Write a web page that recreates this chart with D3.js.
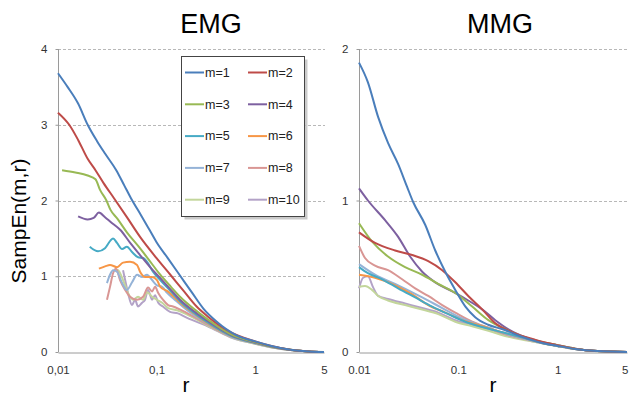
<!DOCTYPE html>
<html><head><meta charset="utf-8">
<script src="https://cdn.jsdelivr.net/npm/d3@7"></script>
<style>body{margin:0;background:#fff}svg{display:block}text{font-family:"Liberation Sans",Arial,sans-serif}</style>
</head><body><svg id="c" width="629" height="399"></svg>
<script>
// ---- data (r, SampEn) ----
const seriesNames = ["m=1","m=2","m=3","m=4","m=5","m=6","m=7","m=8","m=9","m=10"];
const seriesColors = ["#4A7EBB","#BE4B48","#98B954","#7D60A0","#46AAC5","#F79646","#95B3D7","#D99694","#C3D69B","#B3A2C7"];
const xTicks = [0.01,0.1,1,5];
const xTickLabelsEMG = ["0,01","0,1","1","5"];
const xTickLabelsMMG = ["0.01","0.1","1","5"];
const yTicksEMG = [0,1,2,3,4];
const yTicksMMG = [0,1,2];

const emg1 = [[0.01,3.68],[0.0125,3.5],[0.016,3.28],[0.02,3.0],[0.025,2.78],[0.03,2.62],[0.039,2.4],[0.047,2.2],[0.055,2.03],[0.07,1.8],[0.085,1.61],[0.1,1.45],[0.13,1.24],[0.175,1.0],[0.23,0.78],[0.3,0.57],[0.4,0.41],[0.65,0.22],[1,0.14],[1.5,0.075],[2.3,0.03],[3.5,0.008],[5,0]];
const emg2 = [[0.01,3.16],[0.013,3.0],[0.016,2.8],[0.02,2.55],[0.024,2.4],[0.029,2.23],[0.037,2.03],[0.05,1.78],[0.068,1.52],[0.1,1.24],[0.14,1.01],[0.19,0.8],[0.255,0.6],[0.33,0.47],[0.55,0.27],[1,0.14],[1.5,0.075],[2.3,0.03],[3.5,0.008],[5,0]];
const emg3 = [[0.011,2.4],[0.015,2.37],[0.02,2.33],[0.024,2.28],[0.0267,2.14],[0.031,2.0],[0.034,1.88],[0.04,1.76],[0.05,1.58],[0.065,1.4],[0.08,1.25],[0.109,1.02],[0.14,0.86],[0.173,0.73],[0.25,0.55],[0.33,0.43],[0.6,0.22],[1,0.13],[1.5,0.07],[2.3,0.03],[3.5,0.008],[5,0]];
const emg4 = [[0.016,1.79],[0.02,1.75],[0.023,1.77],[0.026,1.84],[0.03,1.78],[0.034,1.72],[0.043,1.61],[0.054,1.44],[0.068,1.28],[0.086,1.12],[0.11,0.97],[0.14,0.82],[0.173,0.69],[0.25,0.52],[0.33,0.41],[0.6,0.21],[1,0.125],[1.5,0.07],[2.3,0.028],[3.5,0.007],[5,0]];
const emg5 = [[0.021,1.39],[0.0255,1.33],[0.03,1.37],[0.034,1.47],[0.0362,1.5],[0.0397,1.44],[0.0447,1.36],[0.05,1.39],[0.0564,1.32],[0.065,1.25],[0.073,1.24],[0.082,1.17],[0.092,1.06],[0.109,0.95],[0.14,0.8],[0.173,0.67],[0.25,0.5],[0.33,0.39],[0.6,0.2],[1,0.12],[1.5,0.065],[2.3,0.027],[3.5,0.007],[5,0]];
const emg6 = [[0.026,1.1],[0.03,1.13],[0.0337,1.15],[0.0397,1.12],[0.0457,1.18],[0.0538,1.19],[0.0634,1.15],[0.068,1.06],[0.0764,0.99],[0.09,0.99],[0.101,0.95],[0.109,0.86],[0.13,0.8],[0.173,0.65],[0.25,0.49],[0.33,0.38],[0.6,0.2],[1,0.12],[1.5,0.065],[2.3,0.027],[3.5,0.007],[5,0]];
const emg7 = [[0.0314,0.91],[0.0337,1.02],[0.0362,1.08],[0.0397,1.06],[0.0447,0.91],[0.05,0.82],[0.0564,0.92],[0.0634,1.02],[0.0713,0.99],[0.08,1.02],[0.09,0.95],[0.101,0.88],[0.114,0.86],[0.128,0.78],[0.15,0.7],[0.2,0.56],[0.33,0.37],[0.6,0.19],[1,0.115],[1.5,0.062],[2.3,0.026],[3.5,0.007],[5,0]];
const emg8 = [[0.0314,0.69],[0.0337,0.86],[0.0362,1.04],[0.0388,1.1],[0.0426,0.95],[0.048,0.82],[0.0538,0.73],[0.0634,0.69],[0.073,0.73],[0.082,0.85],[0.09,0.8],[0.0966,0.86],[0.104,0.78],[0.116,0.69],[0.131,0.62],[0.147,0.6],[0.2,0.52],[0.33,0.36],[0.6,0.19],[1,0.115],[1.5,0.062],[2.3,0.026],[3.5,0.007],[5,0]];
const emg9 = [[0.0379,1.09],[0.0406,1.08],[0.0457,0.95],[0.0513,0.78],[0.0577,0.69],[0.0649,0.73],[0.073,0.69],[0.08,0.79],[0.09,0.73],[0.101,0.69],[0.114,0.65],[0.131,0.58],[0.162,0.55],[0.2,0.5],[0.33,0.35],[0.6,0.185],[1,0.11],[1.5,0.06],[2.3,0.025],[3.5,0.006],[5,0]];
const emg10 = [[0.0457,1.08],[0.048,0.95],[0.0513,0.78],[0.0564,0.62],[0.0605,0.69],[0.0649,0.6],[0.0713,0.65],[0.0764,0.69],[0.082,0.82],[0.09,0.69],[0.0966,0.75],[0.104,0.65],[0.116,0.6],[0.137,0.53],[0.165,0.51],[0.204,0.45],[0.33,0.34],[0.6,0.18],[1,0.11],[1.5,0.06],[2.3,0.025],[3.5,0.006],[5,0]];

const mmg1 = [[0.01,1.91],[0.0123,1.78],[0.0156,1.55],[0.0196,1.38],[0.0248,1.24],[0.0305,1.09],[0.0351,0.99],[0.0464,0.84],[0.0586,0.67],[0.0739,0.53],[0.0933,0.41],[0.118,0.3],[0.148,0.23],[0.2,0.18],[0.28,0.15],[0.44,0.1],[0.7,0.06],[1,0.04],[1.5,0.02],[2.5,0.006],[5,0]];
const mmg2 = [[0.01,0.79],[0.0145,0.72],[0.0231,0.67],[0.0343,0.64],[0.0498,0.6],[0.0689,0.54],[0.0933,0.46],[0.126,0.37],[0.175,0.28],[0.236,0.19],[0.351,0.13],[0.6,0.08],[1,0.045],[1.5,0.022],[2.5,0.006],[5,0]];
const mmg3 = [[0.01,0.85],[0.0135,0.73],[0.0196,0.63],[0.0291,0.56],[0.0433,0.51],[0.0628,0.45],[0.0933,0.39],[0.138,0.3],[0.201,0.21],[0.298,0.15],[0.509,0.09],[1,0.045],[1.5,0.022],[2.5,0.006],[5,0]];
const mmg4 = [[0.01,1.08],[0.0123,1.0],[0.0183,0.87],[0.0248,0.76],[0.0327,0.63],[0.0433,0.53],[0.0586,0.46],[0.087,0.4],[0.126,0.34],[0.175,0.28],[0.236,0.21],[0.32,0.15],[0.509,0.09],[1,0.045],[1.5,0.022],[2.5,0.006],[5,0]];
const mmg5 = [[0.01,0.56],[0.0123,0.52],[0.0171,0.48],[0.0248,0.42],[0.0368,0.36],[0.0546,0.3],[0.0793,0.25],[0.118,0.2],[0.175,0.165],[0.278,0.13],[0.443,0.095],[0.7,0.06],[1,0.04],[1.5,0.02],[2.5,0.006],[5,0]];
const mmg6 = [[0.01,0.51],[0.0145,0.49],[0.0231,0.44],[0.0343,0.38],[0.0498,0.31],[0.0739,0.26],[0.11,0.21],[0.175,0.17],[0.278,0.13],[0.443,0.095],[0.7,0.06],[1,0.04],[1.5,0.02],[2.5,0.006],[5,0]];
const mmg7 = [[0.01,0.58],[0.0145,0.51],[0.0248,0.44],[0.0433,0.36],[0.0689,0.29],[0.11,0.22],[0.201,0.16],[0.3,0.12],[0.443,0.09],[0.7,0.06],[1,0.04],[1.5,0.02],[2.5,0.006],[5,0]];
const mmg8 = [[0.01,0.7],[0.0115,0.62],[0.0145,0.57],[0.0196,0.54],[0.0272,0.48],[0.0368,0.42],[0.0498,0.37],[0.0689,0.31],[0.0933,0.26],[0.138,0.2],[0.201,0.16],[0.32,0.11],[0.5,0.08],[1,0.04],[1.5,0.02],[2.5,0.006],[5,0]];
const mmg9 = [[0.01,0.43],[0.0115,0.435],[0.0135,0.41],[0.0156,0.37],[0.0196,0.34],[0.0291,0.31],[0.0433,0.28],[0.0628,0.25],[0.0933,0.2],[0.138,0.17],[0.201,0.14],[0.32,0.1],[0.5,0.075],[1,0.038],[1.5,0.019],[2.5,0.005],[5,0]];
const mmg10 = [[0.01,0.42],[0.011,0.49],[0.0123,0.5],[0.0138,0.43],[0.0156,0.37],[0.0196,0.35],[0.0291,0.32],[0.0433,0.29],[0.0628,0.26],[0.0933,0.21],[0.138,0.18],[0.201,0.15],[0.32,0.11],[0.5,0.078],[1,0.039],[1.5,0.019],[2.5,0.005],[5,0]];

const emgData = [emg1,emg2,emg3,emg4,emg5,emg6,emg7,emg8,emg9,emg10];
const mmgData = [mmg1,mmg2,mmg3,mmg4,mmg5,mmg6,mmg7,mmg8,mmg9,mmg10];

const svg = d3.select("#c");

function panel(cfg){
  const x = d3.scaleLog().domain([0.01,5]).range([cfg.x0,cfg.x1]);
  const y = d3.scaleLinear().domain([0,cfg.yMax]).range([352,49]);
  const g = svg.append("g");
  g.selectAll("line.grid").data(cfg.yTicks.filter(d=>d>0)).join("line")
    .attr("x1",cfg.x0).attr("x2",cfg.x1+1)
    .attr("y1",d=>Math.round(y(d))+0.5).attr("y2",d=>Math.round(y(d))+0.5)
    .attr("stroke","#b8b8b8").attr("stroke-width",1).attr("stroke-dasharray","3,2");
  const ya = d3.axisLeft(y).tickValues(cfg.yTicks).tickSize(3).tickFormat(d3.format("d"));
  const yg = g.append("g").attr("transform",`translate(${cfg.x0+0.5},0)`).call(ya);
  yg.select(".domain").attr("stroke","#9a9a9a").attr("d",`M-0,${y(cfg.yMax)}V${y(0)}`);
  yg.selectAll(".tick line").attr("stroke","#9a9a9a");
  yg.selectAll(".tick text").attr("x",-11).attr("fill","#333").style("font-size","11.5px").style("font-family","'Liberation Sans',Arial,sans-serif");
  const xa = d3.axisBottom(x).tickValues(xTicks).tickSize(0).tickFormat((d,i)=>cfg.xLabels[i]);
  const xg = g.append("g").attr("transform",`translate(0,${352.5})`).call(xa);
  xg.select(".domain").attr("stroke","#9a9a9a");
  xg.selectAll(".tick text").attr("y",13).attr("dy","0.71em").attr("fill","#333").style("font-size","11.5px").style("font-family","'Liberation Sans',Arial,sans-serif");
  if (cfg.clampLast) {
    xg.selectAll(".tick text").filter(d=>d===5).attr("text-anchor","end").attr("x",628-x(5));
  }
  const line = d3.line().x(d=>x(d[0])).y(d=>y(d[1])).curve(d3.curveMonotoneX);
  const order = [9,8,7,6,5,4,3,2,1,0];
  g.selectAll("path.s").data(order).join("path")
    .attr("d",i=>line(cfg.data[i])).attr("fill","none")
    .attr("stroke",i=>seriesColors[i]).attr("stroke-width",2).attr("stroke-linejoin","round");
  g.append("text").attr("x",cfg.titleX).attr("y",33).attr("text-anchor","middle")
    .style("font-size","27px").attr("fill","#000").text(cfg.title);
  g.append("text").attr("x",cfg.rX).attr("y",392).attr("text-anchor","middle")
    .style("font-size","21px").attr("fill","#000").text("r");
}

panel({x0:58,x1:324,yMax:4,yTicks:yTicksEMG,xLabels:xTickLabelsEMG,data:emgData,title:"EMG",titleX:211,rX:186});
panel({x0:359,x1:627,yMax:2,yTicks:yTicksMMG,xLabels:xTickLabelsMMG,data:mmgData,title:"MMG",titleX:500,rX:493,clampLast:true});

svg.append("text").attr("transform","translate(26,221) rotate(-90)").attr("text-anchor","middle")
  .style("font-size","21px").attr("fill","#000").text("SampEn(m,r)");

const lg = svg.append("g");
lg.append("rect").attr("x",184.5).attr("y",59.5).attr("width",123).attr("height",160).attr("fill","#bdbdbd").attr("opacity",0.8);
lg.append("rect").attr("x",181.5).attr("y",56.5).attr("width",123).attr("height",160).attr("fill","#fff").attr("stroke","#444").attr("stroke-width",1);
const items = lg.selectAll("g.it").data(seriesNames).join("g")
  .attr("transform",(d,i)=>`translate(${i%2===0?185:248},${72.5+Math.floor(i/2)*31.8})`);
items.append("line").attr("x1",0).attr("x2",19).attr("y1",0).attr("y2",0)
  .attr("stroke",(d,i)=>seriesColors[i]).attr("stroke-width",2);
items.append("text").attr("x",20).attr("y",0).attr("dy","0.35em").style("font-size","12.5px").attr("fill","#222").text(d=>d);
</script></body></html>
